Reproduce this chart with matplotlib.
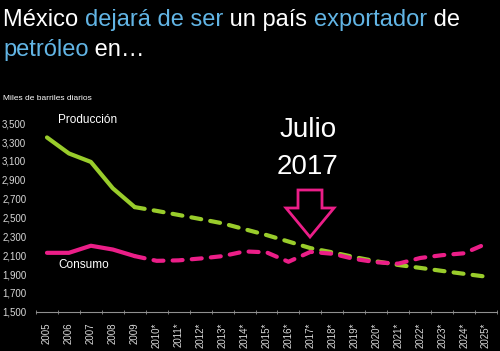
import numpy as np
import matplotlib
matplotlib.use("Agg")
import matplotlib.pyplot as plt
from matplotlib.patches import Polygon

plt.rcParams['font.family'] = ['Liberation Sans', 'DejaVu Sans']

# datos (miles de barriles diarios)
years = ['2005', '2006', '2007', '2008', '2009', '2010*', '2011*', '2012*', '2013*',
         '2014*', '2015*', '2016*', '2017*', '2018*', '2019*', '2020*', '2021*',
         '2022*', '2023*', '2024*', '2025*']
produccion = [3350, 3180, 3090, 2810, 2610, 2570, 2527, 2483, 2438, 2376, 2314,
              2245, 2175, 2130, 2080, 2035, 1996, 1965, 1933, 1902, 1872]
consumo = [2125, 2125, 2200, 2160, 2090, 2040, 2045, 2065, 2090, 2140, 2130,
           2030, 2135, 2115, 2060, 2025, 2010, 2070, 2100, 2120, 2220]
y_ticks = [1500, 1700, 1900, 2100, 2300, 2500, 2700, 2900, 3100, 3300, 3500]

verde = '#99CC2B'
rosa = '#EB1E88'
azul = '#62B5E5'
n_real = 5  # 2005-2009 datos observados, despues estimados

fig = plt.figure(figsize=(5, 3.51), dpi=100, facecolor='black')
ax = fig.add_axes([0.072, 0.112, 0.922, 0.5367], facecolor='black')

x = np.arange(len(years))
for serie, color in [(produccion, verde), (consumo, rosa)]:
    ax.plot(x[:n_real], serie[:n_real], color=color, lw=3,
            solid_capstyle='round', solid_joinstyle='round', clip_on=False)
    ax.plot(x[n_real - 1:], serie[n_real - 1:], color=color, lw=3,
            dashes=(2.4, 2.2), dash_capstyle='round', clip_on=False)

ax.set_xlim(-0.5, len(years) - 0.5)
ax.set_ylim(1500, 3500)
ax.set_yticks(y_ticks)
ax.set_yticklabels(['{:,}'.format(v) for v in y_ticks], fontsize=7, color='#d8d8d8')
ax.set_xticks(x)
ax.set_xticklabels(years, rotation=90, fontsize=7, color='#d8d8d8')
ax.set_xticks(np.arange(-0.5, len(years)), minor=True)
ax.tick_params(axis='x', which='major', length=0, pad=8)
ax.tick_params(axis='x', which='minor', length=3, color='#909090', direction='inout')
ax.tick_params(axis='y', length=0, pad=7)
for s in ['top', 'right', 'left']:
    ax.spines[s].set_visible(False)
ax.spines['bottom'].set_color('#909090')

ax.text(0.5, 3540, 'Producción', color='white', fontsize=8.5, va='center', ha='left')
ax.text(0.5, 1995, 'Consumo', color='white', fontsize=8.5, va='center', ha='left')
fig.text(0.006, 1 - 99 / 351, 'Miles de barriles diarios', color='white', fontsize=6, va='center')

fig.text(308 / 500, 1 - 130 / 351, 'Julio', color='white', fontsize=20, ha='center', va='center')
fig.text(308 / 500, 1 - 167 / 351, '2017', color='white', fontsize=20, ha='center', va='center')

# flecha
pts = [(298, 190), (322, 190), (322, 208), (334, 208), (310, 237), (286, 208), (298, 208)]
flecha = Polygon([(px / 500, 1 - py / 351) for px, py in pts], closed=True,
                 fill=False, edgecolor=rosa, lw=2, transform=fig.transFigure)
fig.patches.append(flecha)

# titulo con palabras de colores
renderer = fig.canvas.get_renderer()
lineas = [[('México ', 'white'), ('dejará de ser', azul), (' un país ', 'white'),
           ('exportador', azul), (' de', 'white')],
          [('petróleo', azul), (' en…', 'white')]]
for i, linea in enumerate(lineas):
    xpos = 3
    ybase = 1 - (26 + 30 * i) / 351
    for txt, col in linea:
        t = fig.text(xpos / 500, ybase, txt, color=col, fontsize=17, va='baseline')
        xpos += t.get_window_extent(renderer).width

fig.savefig('out.png', dpi=100, facecolor='black')
